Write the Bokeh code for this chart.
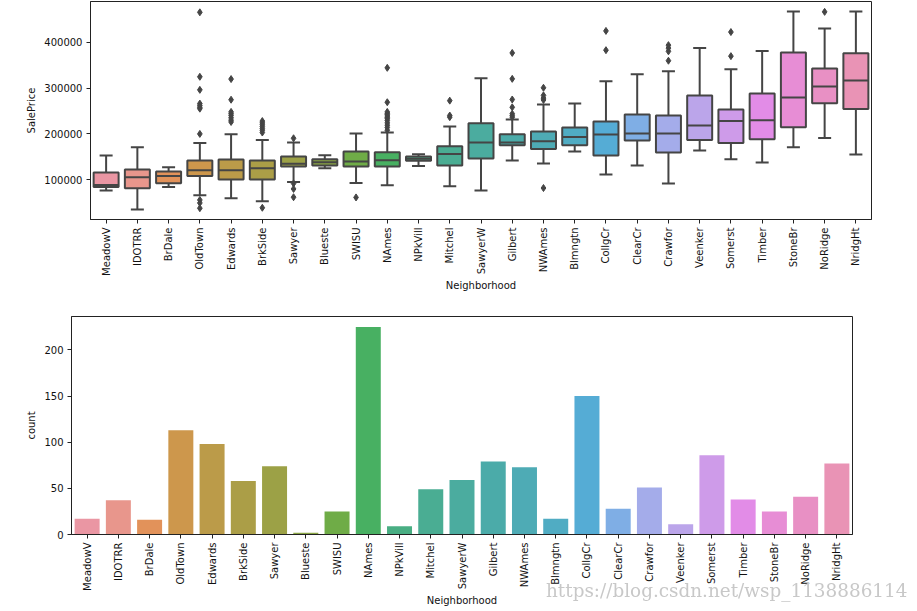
import math
import colorsys
from bokeh.plotting import figure
from bokeh.models import (FactorRange, Range1d, FixedTicker, NumeralTickFormatter,
                          ColumnDataSource, Div)
from bokeh.embed import file_html
from bokeh.resources import INLINE

# ---------------- data ----------------
neighborhoods = ["MeadowV", "IDOTRR", "BrDale", "OldTown", "Edwards", "BrkSide", "Sawyer",
                 "Blueste", "SWISU", "NAmes", "NPkVill", "Mitchel", "SawyerW", "Gilbert",
                 "NWAmes", "Blmngtn", "CollgCr", "ClearCr", "Crawfor", "Veenker", "Somerst",
                 "Timber", "StoneBr", "NoRidge", "NridgHt"]
lower_whisker = [76500, 35000, 84000, 66500, 59500, 53000, 95000, 125000, 93000, 88000,
                 130000, 86000, 76500, 142000, 135500, 161500, 111500, 131000, 92000, 164000,
                 144500, 137500, 171000, 191000, 155000]
q1 = [84500, 81500, 92500, 108000, 100500, 100500, 129000, 131000, 129000, 129000,
      141500, 131000, 146500, 175000, 167000, 175000, 153000, 185500, 159500, 186500,
      180000, 188500, 214500, 267000, 254000]
median = [88500, 105500, 108000, 121000, 121000, 125000, 135000, 138000, 140000, 142500,
          146000, 156000, 181000, 181000, 184000, 193000, 198500, 201000, 201000, 218500,
          228000, 230000, 279500, 303500, 316500]
q3 = [116000, 122500, 118000, 142000, 144000, 142000, 151000, 145000, 161500, 160000,
      150500, 173000, 223000, 199500, 205000, 214000, 227000, 242500, 240000, 283500,
      253000, 288000, 377500, 342500, 376000]
upper_whisker = [153000, 171000, 127500, 180000, 199500, 186500, 181000, 153500, 201000, 203000,
                 155500, 216000, 321500, 231500, 264000, 266000, 315000, 330000, 336500, 387000,
                 341000, 380500, 467000, 430000, 467000]
outlier_neighborhood = (["OldTown"] * 11 + ["Edwards"] * 8 + ["BrkSide"] * 8 + ["Sawyer"] * 4 +
                        ["SWISU"] + ["NAmes"] * 13 + ["Mitchel"] * 3 + ["Gilbert"] * 7 +
                        ["NWAmes"] * 5 + ["CollgCr"] * 2 + ["Crawfor"] * 4 + ["Somerst"] * 2 +
                        ["NoRidge"])
outlier_price = [465000, 324500, 296000, 266000, 262000, 258000, 255000, 200000, 56000, 49500, 38000,
                 319500, 274500, 248000, 244000, 240000, 235000, 230000, 226000,
                 228000, 224000, 220000, 216000, 212000, 208000, 203000, 39000,
                 190500, 92000, 80000, 62000,
                 61500,
                 344000, 269000, 248000, 245000, 242000, 239000, 236000, 233000, 229000,
                 224000, 219000, 214000, 208000,
                 272500, 240000, 236500,
                 376500, 320000, 275000, 258000, 244000, 240000, 236500,
                 300500, 284000, 278000, 274000, 82000,
                 424500, 382500,
                 393500, 387000, 380000, 359500,
                 422000, 369500,
                 466000]
counts = [17, 37, 16, 113, 98, 58, 74, 2, 25, 225, 9, 49, 59, 79, 73, 17, 150, 28, 51, 11,
          86, 38, 25, 41, 77]
watermark = "https://blog.csdn.net/wsp_1138886114"

# ---------------- seaborn-like husl palette ----------------
_M = [[3.2406, -1.5372, -0.4986],
      [-0.9689, 1.8758, 0.0415],
      [0.0557, -0.2040, 1.0570]]
_refU, _refV = 0.19784, 0.46834


def _max_chroma(L, H):
    hrad = math.radians(H)
    sinH, cosH = math.sin(hrad), math.cos(hrad)
    sub1 = (L + 16) ** 3 / 1560896.0
    sub2 = sub1 if sub1 > 0.008856 else L / 903.3
    result = float("inf")
    for m1, m2, m3 in _M:
        top = (0.99915 * m1 + 1.05122 * m2 + 1.14460 * m3) * sub2
        rbottom = 0.86330 * m3 - 0.17266 * m2
        lbottom = 0.12949 * m3 - 0.38848 * m1
        bottom = (rbottom * sinH + lbottom * cosH) * sub2
        for t in (0.0, 1.0):
            C = L * (top - 1.05122 * t) / (bottom + 0.17266 * sinH * t)
            if 0.0 < C < result:
                result = C
    return result


def _husl_to_rgb(H, S, L):
    C = _max_chroma(L, H) / 100.0 * S
    hr = math.radians(H)
    U, V = math.cos(hr) * C, math.sin(hr) * C
    t = (L + 16.0) / 116.0
    Y = t ** 3 if t ** 3 > 0.008856 else (116.0 * t - 16.0) / 903.3
    varU = U / (13.0 * L) + _refU
    varV = V / (13.0 * L) + _refV
    X = -(9.0 * Y * varU) / ((varU - 4.0) * varV - varU * varV)
    Z = (9.0 * Y - 15.0 * varV * Y - varV * X) / (3.0 * varV)
    out = []
    for row in _M:
        c = row[0] * X + row[1] * Y + row[2] * Z
        c = 12.92 * c if c <= 0.0031308 else 1.055 * c ** (1 / 2.4) - 0.055
        out.append(min(max(c, 0.0), 1.0))
    return out


def husl_palette(n, h=0.01, s=0.9, l=0.7):
    cols = []
    for i in range(n):
        hue = ((i / n) + h) % 1 * 359
        cols.append(_husl_to_rgb(hue, s * 99, l * 99))
    return cols


def desaturate(rgb, prop):
    hh, ll, ss = colorsys.rgb_to_hls(*rgb)
    return colorsys.hls_to_rgb(hh, ll, ss * prop)


def to_hex(rgb):
    return "#%02x%02x%02x" % tuple(int(round(c * 255)) for c in rgb)


rgb_cols = [desaturate(c, 0.75) for c in husl_palette(len(neighborhoods))]
colors = [to_hex(c) for c in rgb_cols]
lum = min(colorsys.rgb_to_hls(*c)[1] for c in rgb_cols) * 0.6
gray = to_hex((lum, lum, lum))

FONT = "DejaVu Sans"


def style(p, ylabel):
    p.background_fill_color = "white"
    p.border_fill_color = "white"
    p.outline_line_color = "#222222"
    p.outline_line_width = 1
    p.xgrid.visible = False
    p.ygrid.visible = False
    for ax in (p.xaxis, p.yaxis):
        ax.axis_line_color = "#222222"
        ax.axis_line_width = 1
        ax.major_tick_line_color = "#222222"
        ax.major_tick_out = 4
        ax.major_tick_in = 0
        ax.minor_tick_line_color = None
        ax.major_label_text_font = FONT
        ax.major_label_text_font_size = "10px"
        ax.major_label_text_color = "#111111"
        ax.axis_label_text_font = FONT
        ax.axis_label_text_font_size = "10px"
        ax.axis_label_text_font_style = "normal"
        ax.axis_label_text_color = "#111111"
    p.xaxis.major_label_orientation = math.pi / 2
    p.xaxis.major_label_standoff = 4
    p.xaxis.axis_label_standoff = 1
    p.yaxis.major_label_standoff = 4
    p.yaxis.axis_label_standoff = 4
    p.xaxis.axis_label = "Neighborhood"
    p.yaxis.axis_label = ylabel


# ---------------- top: boxplot ----------------
all_low = min(lower_whisker + outlier_price)
all_high = max(upper_whisker + outlier_price)
span = all_high - all_low
p1 = figure(x_range=FactorRange(factors=neighborhoods),
            y_range=Range1d(all_low - 0.05 * span, all_high + 0.05 * span),
            frame_width=781, frame_height=218,
            min_border_left=90, min_border_right=10, min_border_top=1, min_border_bottom=0,
            output_backend="svg", toolbar_location=None)
style(p1, "SalePrice")
p1.yaxis.ticker = FixedTicker(ticks=[100000, 200000, 300000, 400000])
p1.yaxis.formatter = NumeralTickFormatter(format="0")

src = ColumnDataSource(dict(nb=neighborhoods, lo=lower_whisker, q1=q1, med=median,
                            q3=q3, hi=upper_whisker, color=colors))
p1.segment(x0="nb", y0="q3", x1="nb", y1="hi", source=src, line_color=gray, line_width=2)
p1.segment(x0="nb", y0="q1", x1="nb", y1="lo", source=src, line_color=gray, line_width=2)
p1.scatter(x="nb", y="hi", source=src, marker="dash", size=13, line_color=gray, line_width=2)
p1.scatter(x="nb", y="lo", source=src, marker="dash", size=13, line_color=gray, line_width=2)
p1.vbar(x="nb", top="q3", bottom="q1", width=0.8, source=src, fill_color="color",
        line_color=gray, line_width=2)
p1.scatter(x="nb", y="med", source=src, marker="dash", size=25, line_color=gray, line_width=2)
p1.scatter(x=outlier_neighborhood, y=outlier_price, marker="diamond", size=7,
           fill_color=gray, line_color=gray)

# ---------------- bottom: countplot ----------------
p2 = figure(x_range=FactorRange(factors=neighborhoods),
            y_range=Range1d(0, max(counts) * 1.05),
            frame_width=781, frame_height=218,
            min_border_left=71, min_border_right=10, min_border_top=23, min_border_bottom=0,
            output_backend="svg", toolbar_location=None)
style(p2, "count")
p2.yaxis.ticker = FixedTicker(ticks=[0, 50, 100, 150, 200])
p2.vbar(x=neighborhoods, top=counts, width=0.8, fill_color=colors, line_color=None)

# watermark (HTML text, fixed over the lower right corner)
wm = Div(text=('<span style="position:fixed;left:546px;top:578px;'
               'font-family:\'DejaVu Serif\',serif;font-size:18.4px;color:#c8c8c8;'
               'white-space:nowrap;">' + watermark + '</span>'),
         width=1, height=1, margin=0)

open("out.html", "w").write(file_html([p1, p2, wm], INLINE))
